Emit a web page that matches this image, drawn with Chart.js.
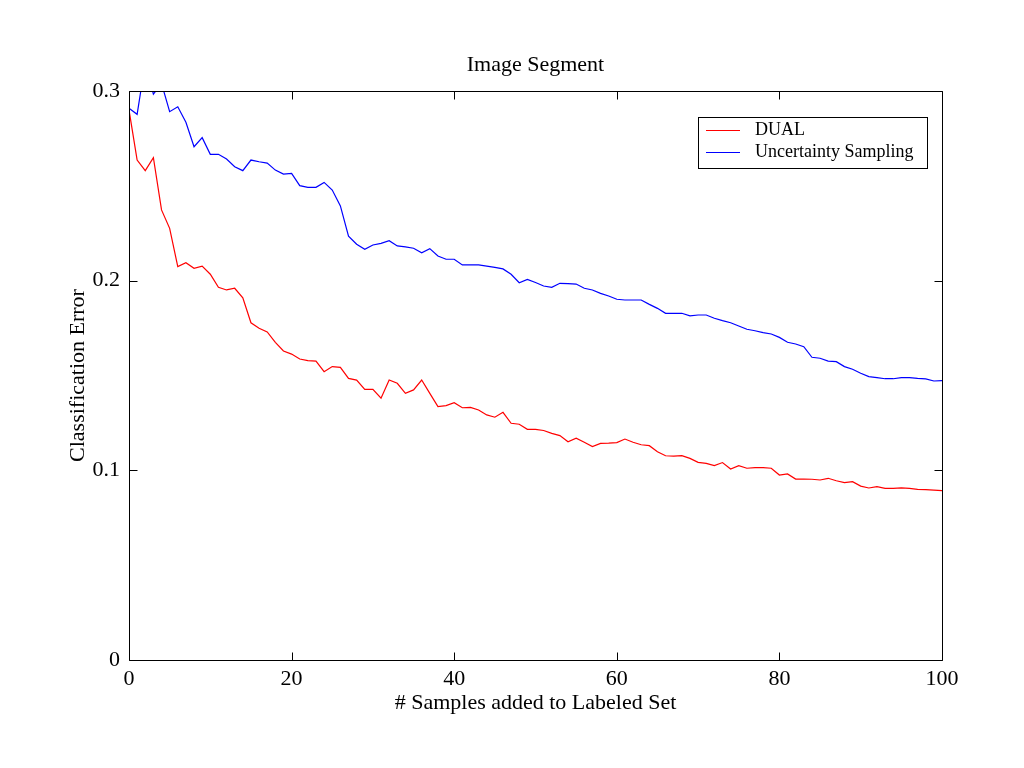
<!DOCTYPE html>
<html>
<head>
<meta charset="utf-8">
<script src="https://cdn.jsdelivr.net/npm/chart.js@4.4.0/dist/chart.umd.min.js"></script>
<style>
html,body{margin:0;padding:0;background:#ffffff;}
#wrap{width:1024px;height:768px;}
</style>
</head>
<body>
<div id="wrap"><canvas id="c" width="1024" height="768"></canvas></div>
<script>
// ---- data ----
const samples = [0,1,2,3,4,5,6,7,8,9,10,11,12,13,14,15,16,17,18,19,20,21,22,23,24,25,26,27,28,29,30,31,32,33,34,35,36,37,38,39,40,41,42,43,44,45,46,47,48,49,50,51,52,53,54,55,56,57,58,59,60,61,62,63,64,65,66,67,68,69,70,71,72,73,74,75,76,77,78,79,80,81,82,83,84,85,86,87,88,89,90,91,92,93,94,95,96,97,98,99,100];

const dualError = [
0.2900,0.2636,0.2580,0.2648,0.2373,0.2276,0.2074,0.2095,0.2065,0.2077,
0.2034,0.1965,0.1951,0.1960,0.1910,0.1778,0.1749,0.1730,0.1675,0.1629,
0.1613,0.1587,0.1578,0.1576,0.1520,0.1547,0.1543,0.1485,0.1476,0.1427,
0.1427,0.1380,0.1476,0.1459,0.1406,0.1424,0.1476,0.1406,0.1336,0.1341,
0.1357,0.1330,0.1332,0.1318,0.1292,0.1280,0.1306,0.1248,0.1243,0.1216,
0.1216,0.1210,0.1195,0.1183,0.1151,0.1169,0.1148,0.1125,0.1142,0.1143,
0.1146,0.1165,0.1148,0.1135,0.1130,0.1098,0.1077,0.1075,0.1077,0.1063,
0.1042,0.1037,0.1025,0.1041,0.1007,0.1025,0.1011,0.1014,0.1014,0.1011,
0.0975,0.0981,0.0954,0.0954,0.0953,0.0949,0.0958,0.0945,0.0935,0.0940,
0.0917,0.0907,0.0914,0.0905,0.0905,0.0907,0.0905,0.0900,0.0898,0.0896,
0.0893];

const uncertaintyError = [
0.2909,0.2877,0.3150,0.2983,0.3040,0.2891,0.2917,0.2835,0.2706,0.2754,
0.2666,0.2666,0.2641,0.2601,0.2580,0.2636,0.2627,0.2620,0.2583,0.2562,
0.2566,0.2501,0.2492,0.2492,0.2518,0.2478,0.2394,0.2235,0.2192,0.2165,
0.2188,0.2197,0.2211,0.2183,0.2178,0.2171,0.2147,0.2169,0.2130,0.2113,
0.2113,0.2083,0.2083,0.2083,0.2077,0.2070,0.2062,0.2034,0.1989,0.2007,
0.1990,0.1972,0.1965,0.1986,0.1984,0.1982,0.1960,0.1951,0.1933,0.1919,
0.1902,0.1898,0.1898,0.1898,0.1875,0.1854,0.1828,0.1828,0.1828,0.1814,
0.1819,0.1819,0.1802,0.1789,0.1778,0.1761,0.1744,0.1736,0.1726,0.1719,
0.1701,0.1675,0.1666,0.1652,0.1596,0.1591,0.1576,0.1573,0.1547,0.1533,
0.1512,0.1494,0.1489,0.1483,0.1483,0.1489,0.1489,0.1485,0.1482,0.1471,
0.1473];

const seriesLabels = ['DUAL', 'Uncertainty Sampling'];
const xTickValues = [0, 20, 40, 60, 80, 100];
const yTickValues = [0, 0.1, 0.2, 0.3];
const yTickLabels = ['0', '0.1', '0.2', '0.3'];
const chartTitle = 'Image Segment';
const xTitle = '# Samples added to Labeled Set';
const yTitle = 'Classification Error';

// ---- chart ----
const FONT = 'Liberation Serif, "Times New Roman", Times, serif';

// centre the chart title over the plot area (MATLAB style)
const titleOverAxes = {
  id: 'titleOverAxes',
  afterLayout(chart) {
    const t = chart.titleBlock;
    if (t) {
      t.left = chart.chartArea.left;
      t.right = chart.chartArea.right;
      t.width = t.right - t.left;
    }
  }
};

const framePlugin = {
  id: 'frameTicks',
  afterDraw(chart) {
    const ctx = chart.ctx;
    const a = chart.chartArea;
    const xs = chart.scales.x, ys = chart.scales.y;
    const L = Math.round(a.left) + 0.5, R = Math.round(a.right) + 0.5;
    const T = Math.round(a.top) + 0.5, B = Math.round(a.bottom) + 0.5;
    ctx.save();
    ctx.strokeStyle = '#000';
    ctx.lineWidth = 1;
    ctx.beginPath();
    ctx.rect(L, T, R - L, B - T);
    ctx.stroke();
    const len = 8;
    ctx.beginPath();
    xTickValues.forEach(v => {
      const p = Math.round(xs.getPixelForValue(v)) + 0.5;
      ctx.moveTo(p, B); ctx.lineTo(p, B - len);
      ctx.moveTo(p, T); ctx.lineTo(p, T + len);
    });
    yTickValues.forEach(v => {
      const p = Math.round(ys.getPixelForValue(v)) + 0.5;
      ctx.moveTo(L, p); ctx.lineTo(L + len, p);
      ctx.moveTo(R, p); ctx.lineTo(R - len, p);
    });
    ctx.stroke();

    // legend box (inside the axes)
    const bx = 698.5, by = 117.5, bw = 229, bh = 51;
    ctx.fillStyle = '#fff';
    ctx.fillRect(bx, by, bw, bh);
    ctx.strokeRect(bx, by, bw, bh);
    ctx.font = '18px ' + FONT;
    ctx.textBaseline = 'middle';
    ctx.textAlign = 'left';
    const rows = [130.5, 152.5];
    chart.data.datasets.forEach((ds, i) => {
      ctx.strokeStyle = ds.borderColor;
      ctx.lineWidth = 1.2;
      ctx.beginPath();
      ctx.moveTo(706, rows[i]);
      ctx.lineTo(740, rows[i]);
      ctx.stroke();
      ctx.fillStyle = '#000';
      ctx.fillText(ds.label, 755, rows[i]);
    });
    ctx.restore();
  }
};

new Chart(document.getElementById('c'), {
  type: 'line',
  data: {
    datasets: [
      {
        label: seriesLabels[0],
        data: samples.map((x, i) => ({x: x, y: dualError[i]})),
        borderColor: '#ff0000',
        borderWidth: 1.2,
        pointRadius: 0,
        tension: 0,
        fill: false,
        clip: 0
      },
      {
        label: seriesLabels[1],
        data: samples.map((x, i) => ({x: x, y: uncertaintyError[i]})),
        borderColor: '#0000ff',
        borderWidth: 1.2,
        pointRadius: 0,
        tension: 0,
        fill: false,
        clip: 0
      }
    ]
  },
  options: {
    responsive: false,
    animation: false,
    devicePixelRatio: 1,
    layout: {padding: {left: 0, right: 82, top: 0, bottom: 0}},
    plugins: {
      legend: {display: false},
      tooltip: {enabled: false},
      title: {
        display: true,
        text: chartTitle,
        color: '#000',
        font: {family: FONT, size: 22, weight: 'normal', lineHeight: 1.2},
        padding: {top: 51.8, bottom: 12.8}
      }
    },
    scales: {
      x: {
        type: 'linear',
        min: 0,
        max: 100,
        afterBuildTicks: s => { s.ticks = xTickValues.map(v => ({value: v})); },
        afterFit: s => { s.height = 108; },
        grid: {display: false, drawTicks: false},
        border: {display: false},
        ticks: {
          color: '#000',
          font: {family: FONT, size: 22},
          padding: 6,
          maxRotation: 0,
          autoSkip: false,
          callback: v => String(v)
        },
        title: {
          display: true,
          text: xTitle,
          color: '#000',
          font: {family: FONT, size: 22, lineHeight: 1.2},
          padding: {top: 0, bottom: 52}
        }
      },
      y: {
        type: 'linear',
        min: 0,
        max: 0.3,
        afterBuildTicks: s => { s.ticks = yTickValues.map(v => ({value: v})); },
        afterFit: s => { s.width = 129; },
        grid: {display: false, drawTicks: false},
        border: {display: false},
        ticks: {
          color: '#000',
          font: {family: FONT, size: 22},
          padding: 9,
          autoSkip: false,
          callback: (v) => {
            const i = yTickValues.findIndex(t => Math.abs(t - v) < 1e-9);
            return i >= 0 ? yTickLabels[i] : '';
          }
        },
        title: {
          display: true,
          text: yTitle,
          color: '#000',
          font: {family: FONT, size: 22, lineHeight: 1.2},
          padding: {top: 64.8, bottom: 0}
        }
      }
    }
  },
  plugins: [titleOverAxes, framePlugin]
});
</script>
</body>
</html>
